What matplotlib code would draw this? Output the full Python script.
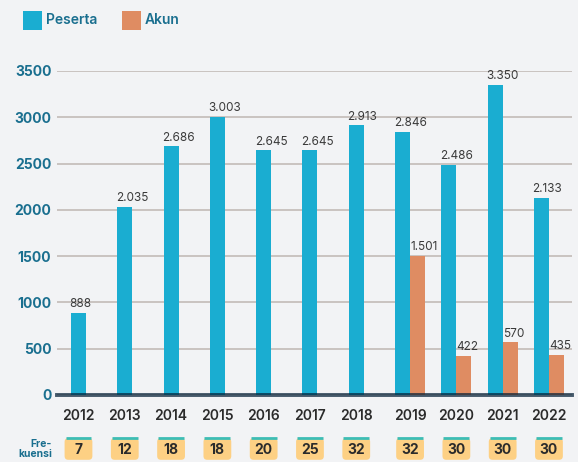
import numpy as np
import matplotlib
matplotlib.use("Agg")
import matplotlib.pyplot as plt
from matplotlib.patches import FancyBboxPatch, Rectangle
import matplotlib.transforms as mtransforms

plt.rcParams['font.family'] = ['Inter', 'DejaVu Sans']

# data
years = ["2012", "2013", "2014", "2015", "2016", "2017", "2018", "2019", "2020", "2021", "2022"]
peserta = [888, 2035, 2686, 3003, 2645, 2645, 2913, 2846, 2486, 3350, 2133]
peserta_lbl = ["888", "2.035", "2.686", "3.003", "2.645", "2.645", "2.913", "2.846", "2.486", "3.350", "2.133"]
akun = [0, 0, 0, 0, 0, 0, 0, 1501, 422, 570, 435]
akun_lbl = ["", "", "", "", "", "", "", "1.501", "422", "570", "435"]
frekuensi = [7, 12, 18, 18, 20, 25, 32, 32, 30, 30, 30]

bg = "#f2f3f5"
blue = "#1aadd1"
orange = "#df8c62"
teal_txt = "#1a6f8f"
dark_txt = "#2b2b2b"

fig = plt.figure(figsize=(5.78, 4.62), dpi=100, facecolor=bg)
ax = fig.add_axes([57/578, 1-395/462, 515/578, 324/462])
ax.set_facecolor(bg)

x = np.arange(len(years))
w = 0.325
ax.bar(x, peserta, width=w, color=blue, zorder=2)
ax.bar(x + w, akun, width=w, color=orange, zorder=2)

# value labels (left aligned at bar edge)
for i in range(len(x)):
    ax.annotate(peserta_lbl[i], (x[i] - w/2, peserta[i]), xytext=(-1, 4),
                textcoords="offset points", ha="left", va="baseline",
                fontsize=8.5, color="#3a3a3a")
    if akun[i] > 0:
        ax.annotate(akun_lbl[i], (x[i] + w/2, akun[i]), xytext=(0, 4),
                    textcoords="offset points", ha="left", va="baseline",
                    fontsize=8.5, color="#3a3a3a")

ax.set_xlim(-0.464, 10.66)
ax.set_ylim(0, 3500)
ax.set_yticks(np.arange(0, 3501, 500))
ax.grid(axis="y", color="#c2bbb7", lw=1.2, zorder=0)
ax.set_axisbelow(True)
for s in ax.spines.values():
    s.set_visible(False)

ax.axhline(0, color="#052037", alpha=0.73, lw=2.8, zorder=3, clip_on=False)

# tick positions: centre the group where Akun exists
tick_x = [xi + (w/2 if a > 0 else 0) for xi, a in zip(x, akun)]
ax.set_xticks(tick_x)
ax.set_xticklabels(years, fontsize=10, color=dark_txt, fontweight="semibold")
ax.tick_params(axis="x", length=0, pad=10)
ax.tick_params(axis="y", length=0, pad=4, labelsize=10, labelcolor=teal_txt)
for lbl in ax.get_yticklabels():
    lbl.set_fontweight("bold")

# frekuensi row
trans = mtransforms.blended_transform_factory(ax.transData, ax.transAxes)
bw = 0.6
top = -0.133
bh = 0.067
for tx, f in zip(tick_x, frekuensi):
    box = FancyBboxPatch((tx - bw/2, top - bh), bw, bh,
                         boxstyle="round,pad=0,rounding_size=0.08",
                         mutation_aspect=46.3/324,
                         transform=trans, facecolor="#fdd084", edgecolor="none",
                         clip_on=False)
    ax.add_patch(box)
    ax.plot([tx - bw/2 + 0.02, tx + bw/2 - 0.02], [top, top], transform=trans,
            color="#3dbdb5", lw=2, clip_on=False, solid_capstyle="butt")
    ax.text(tx, top - bh/2 - 0.004, str(f), transform=trans, ha="center", va="center",
            fontsize=10, fontweight="bold", color=dark_txt)

ax.text(-0.01, top - bh/2, "Fre-\nkuensi", transform=ax.transAxes, ha="right",
        va="center", multialignment="right", fontsize=7.5, fontweight="bold",
        color=teal_txt, linespacing=1.1)

# legend
fig.patches.append(Rectangle((23/578, 1-30/462), 19/578, 19/462, transform=fig.transFigure,
                             facecolor=blue, edgecolor="none"))
fig.text(46/578, 1-20/462, "Peserta", ha="left", va="center", fontsize=10,
         fontweight="semibold", color=teal_txt)
fig.patches.append(Rectangle((122/578, 1-30/462), 19/578, 19/462, transform=fig.transFigure,
                             facecolor=orange, edgecolor="none"))
fig.text(145/578, 1-20/462, "Akun", ha="left", va="center", fontsize=10,
         fontweight="semibold", color=teal_txt)

fig.savefig("out.png", dpi=100, facecolor=bg)
